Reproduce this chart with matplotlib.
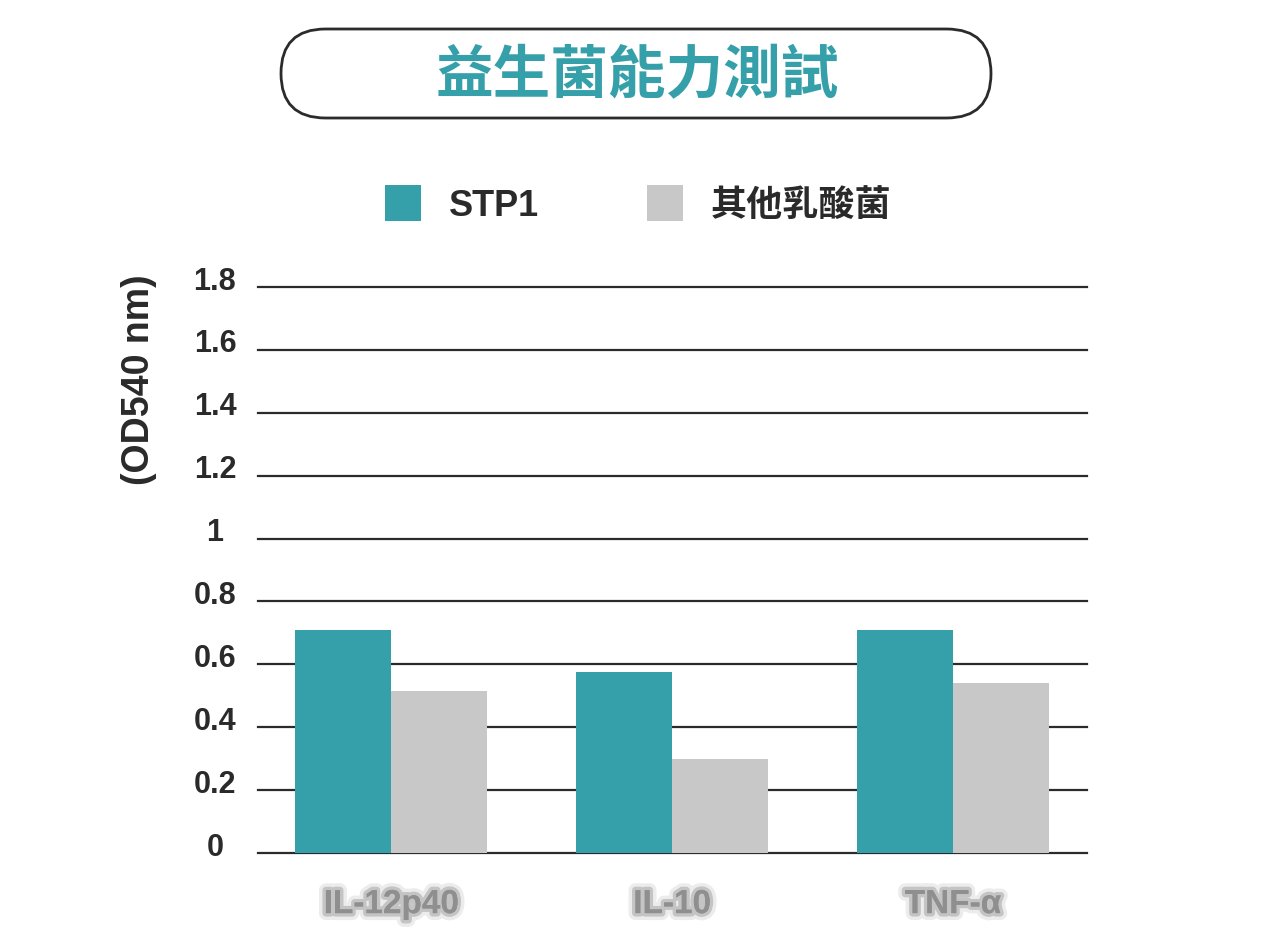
import numpy as np
import matplotlib
matplotlib.use("Agg")
import matplotlib.pyplot as plt
from matplotlib.patches import FancyBboxPatch, Rectangle
from matplotlib.transforms import ScaledTranslation
import matplotlib.patheffects as pe

# Data
categories = ["IL-12p40", "IL-10", "TNF-α"]
stp1 = [0.71, 0.575, 0.71]
others = [0.515, 0.30, 0.54]
series_names = ["STP1", "其他乳酸菌"]
yticks = [0, 0.2, 0.4, 0.6, 0.8, 1, 1.2, 1.4, 1.6, 1.8]
ytick_labels = ["0", "0.2", "0.4", "0.6", "0.8", "1", "1.2", "1.4", "1.6", "1.8"]
title = "益生菌能力測試"
ylabel = "(OD540 nm)"

teal = "#35A0A9"
gray = "#C8C8C8"
dark = "#2b2b2b"
fonts = ["Liberation Sans", "Noto Sans CJK TC", "DejaVu Sans"]
plt.rcParams["font.family"] = fonts

fig = plt.figure(figsize=(12.8, 9.42), dpi=100)

# Overlay in pixel coords for title pill and legend
bg = fig.add_axes([0, 0, 1, 1])
bg.set_xlim(0, 1280)
bg.set_ylim(942, 0)
bg.axis("off")
pill = FancyBboxPatch((281, 29), 710, 89, boxstyle="round,pad=0,rounding_size=44.5",
                      facecolor="white", edgecolor=dark, linewidth=2)
bg.add_patch(pill)
bg.text(637, 76, title, color=teal, fontsize=41.5, fontweight="bold",
        family=["Noto Sans CJK TC"], ha="center", va="center")

# legend drawn by hand
legend_x = [385, 647]
for lx, name, col in zip(legend_x, series_names, [teal, gray]):
    bg.add_patch(Rectangle((lx, 185), 36, 36, facecolor=col, edgecolor="none"))
    bg.text(lx + 64, 206, name, fontsize=26, fontweight="bold", color="#2a2a2a",
            family=fonts, ha="left", va="center")

# Main chart
ax = fig.add_axes([258 / 1280, 89 / 942, 829 / 1280, 566 / 942])
x = np.arange(len(categories))
w = 0.342
ax.bar(x - w / 2, stp1, width=w, color=teal, zorder=3)
ax.bar(x + w / 2, others, width=w, color=gray, zorder=3)

ax.set_xlim(-0.475, 2.477)
ax.set_ylim(0, 1.8)
ax.set_yticks(yticks)
ax.set_yticklabels(ytick_labels)
ax.yaxis.grid(True, color=dark, linewidth=1.6)
ax.set_axisbelow(True)
for line in ax.get_ygridlines():
    line.set_clip_on(False)
for s in ax.spines.values():
    s.set_visible(False)
ax.tick_params(axis="y", length=0, pad=31, labelsize=22, labelcolor="#2a2a2a")
ax.tick_params(axis="x", length=0, pad=26, labelsize=24, labelcolor="#8f8f8f")
for lab in ax.get_yticklabels():
    lab.set_fontweight("bold")
    lab.set_horizontalalignment("center")
    lab.set_transform(lab.get_transform() + ScaledTranslation(0, 0.09, fig.dpi_scale_trans))

ax.set_xticks(x)
ax.set_xticklabels(categories)
for lab in ax.get_xticklabels():
    lab.set_fontweight("bold")
    lab.set_path_effects([pe.withStroke(linewidth=10, foreground="#ececec"),
                          pe.withStroke(linewidth=5, foreground="#c4c4c4"),
                          pe.Normal()])

ax.set_ylabel(ylabel, fontsize=27, fontweight="bold", color="#2a2a2a")
ax.yaxis.set_label_coords(-0.122, 0.836)

fig.savefig("out.png", dpi=100, facecolor="white")
